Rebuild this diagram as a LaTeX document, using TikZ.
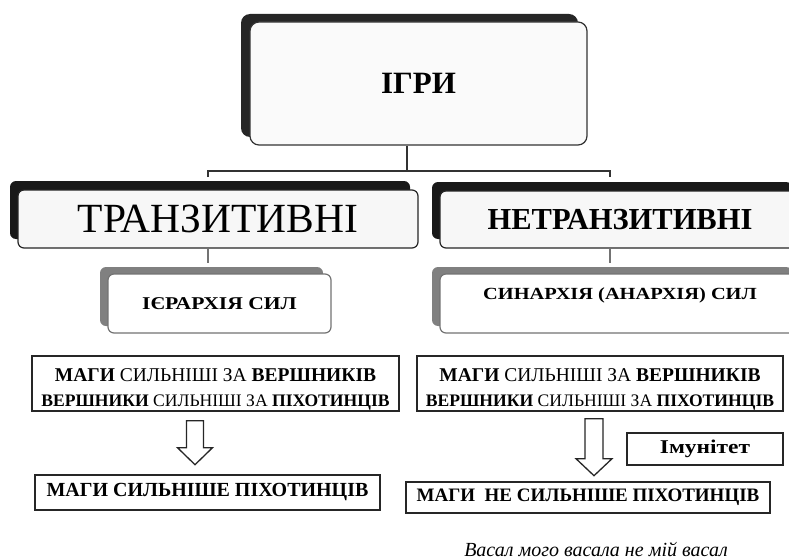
\documentclass[tikz,border=0pt]{standalone}
\usepackage{fontspec}
\setmainfont{Liberation Serif}
\newfontfamily\wideserif{Liberation Serif}[FakeStretch=1.2]
\usetikzlibrary{shadows,positioning}

\newcommand{\premisetext}{%
  {\fontsize{19.5}{25}\selectfont\rule{0pt}{25pt}\textbf{МАГИ} СИЛЬНІШІ ЗА \textbf{ВЕРШНИКІВ}}\\
  {\fontsize{17.6}{25}\selectfont\textbf{ВЕРШНИКИ} СИЛЬНІШІ ЗА \textbf{ПІХОТИНЦІВ}}}

\begin{document}
\begin{tikzpicture}[x=1pt,y=-1pt,
    topbox/.style={draw=black!80, line width=1.2pt, rounded corners=9pt, fill=black!2,
      general shadow={fill=black!85, shadow xshift=-9pt, shadow yshift=8pt}},
    headbox/.style={draw=black!85, line width=1.2pt, rounded corners=6pt, fill=black!3,
      general shadow={fill=black!90, shadow xshift=-8pt, shadow yshift=9pt}},
    subbox/.style={draw=black!55, line width=1.2pt, rounded corners=6pt, fill=white,
      general shadow={fill=black!50, shadow xshift=-8pt, shadow yshift=7pt}},
    plainbox/.style={draw=black!85, line width=1.4pt, fill=white, inner sep=0pt, align=center},
    tree/.style={draw=black!80, line width=1.2pt},
    stem/.style={draw=black!55, line width=1.2pt},
    hollow/.style={draw=black!85, line width=1.3pt, fill=white, line join=miter}]

  \useasboundingbox (0,0) rectangle (789,559);

  % top level
  \node[topbox, minimum width=337pt, minimum height=123pt, font=\fontsize{31}{33}\selectfont\bfseries]
    (igry) at (418.5,83.5) {ІГРИ};

  \coordinate (split) at (407,171);
  \coordinate (tl) at (208,177);
  \coordinate (tr) at (610,177);
  \draw[tree] (igry.south -| split) -- (split);
  \draw[tree] (tl) -- (tl |- split) -- (tr |- split) -- (tr);

  % second level
  \node[headbox, minimum width=400pt, minimum height=58pt, font=\fontsize{41.5}{43}\selectfont]
    (trans) at (218,219) {ТРАНЗИТИВНІ};
  \node[headbox, minimum width=360pt, minimum height=57pt, font=\fontsize{30.5}{32}\selectfont\bfseries]
    (ntrans) at (620,219.5) {НЕТРАНЗИТИВНІ};

  \draw[stem] (tl |- trans.south) -- ++(0,14);
  \draw[stem] (tr |- ntrans.south) -- ++(0,14);

  % kinds of power
  \node[subbox, minimum width=223pt, minimum height=59pt, font=\wideserif\fontsize{18}{20}\selectfont\bfseries]
    (hier) at (219.5,303.5) {ІЄРАРХІЯ СИЛ};
  \node[subbox, minimum width=360pt, minimum height=59pt] (syn) at (620,303.5) {};
  \node[below=11pt of syn.north, font=\wideserif\fontsize{17}{19}\selectfont\bfseries]
    (syntext) {СИНАРХІЯ (АНАРХІЯ) СИЛ};

  % premises
  \node[plainbox, minimum width=367pt, minimum height=55pt, font=\fontsize{18}{25}\selectfont]
    (premL) at (215.5,383.5) {\premisetext};
  \node[plainbox, minimum width=366pt, minimum height=55pt, font=\fontsize{18}{25}\selectfont]
    (premR) at (600,383.5) {\premisetext};

  % hollow arrows
  \coordinate (arL) at (premL.south -| 195,0);
  \coordinate (arR) at (premR.south -| 594,0);
  \draw[hollow] ([xshift=-8.5pt,yshift=-9pt]arL) -- ++(17,0) -- ++(0,27) -- ++(9,0)
    -- ++(-17.5,17) -- ++(-17.5,-17) -- ++(9,0) -- cycle;
  \draw[hollow] ([xshift=-9pt,yshift=-7pt]arR) -- ++(18,0) -- ++(0,40) -- ++(9,0)
    -- ++(-18,17) -- ++(-18,-17) -- ++(9,0) -- cycle;

  \node[plainbox, minimum width=156pt, minimum height=32pt, font=\wideserif\fontsize{19.5}{21}\selectfont\bfseries]
    (imun) at (705,449) {Імунітет};

  % conclusions
  \node[plainbox, minimum width=345pt, minimum height=35pt, font=\fontsize{20}{22}\selectfont\bfseries]
    (concL) at (207.5,492.5) {МАГИ СИЛЬНІШЕ ПІХОТИНЦІВ};
  \node[plainbox, minimum width=364pt, minimum height=31pt, font=\fontsize{19}{21}\selectfont\bfseries]
    (concR) at (588,497.5) {МАГИ\ \ НЕ СИЛЬНІШЕ ПІХОТИНЦІВ};

  \node[font=\fontsize{20}{22}\selectfont\itshape] (vasal) at (596,549) {Васал мого васала не мій васал};
\end{tikzpicture}
\end{document}
